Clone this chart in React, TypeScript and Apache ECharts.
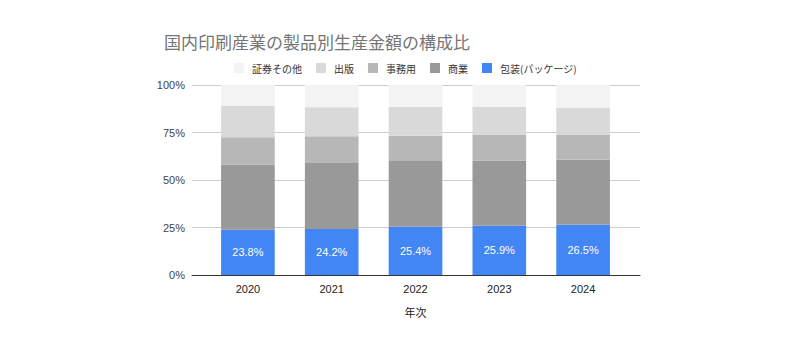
import React, { useEffect, useRef } from "react";
import * as echarts from "echarts";

const years = ["2020", "2021", "2022", "2023", "2024"];
const packaging = [23.8, 24.2, 25.4, 25.9, 26.5];
const commercial = [34.3, 34.7, 34.6, 34.3, 34.2];
const office = [14.4, 14.1, 13.3, 13.5, 13.0];
const publishing = [16.4, 15.3, 15.3, 14.9, 14.4];
const securities = [11.1, 11.7, 11.4, 11.4, 11.9];
const yTicks = [0, 25, 50, 75, 100];

const FONT = "'Liberation Sans', 'Noto Sans CJK JP', sans-serif";

export default function App() {
  const ref = useRef<HTMLDivElement>(null);
  useEffect(() => {
    const chart = echarts.init(ref.current!, undefined, { renderer: "svg" });
    const mk = (name: string, data: number[], color: string, label = false) => ({
      name,
      type: "bar",
      stack: "total",
      xAxisIndex: 0,
      yAxisIndex: 0,
      barWidth: "64%",
      data,
      itemStyle: { color },
      label: label
        ? {
            show: true,
            position: "inside",
            color: "#ffffff",
            fontSize: 11,
            fontFamily: FONT,
            formatter: (p: any) => p.value.toFixed(1) + "%",
          }
        : { show: false },
    });
    chart.setOption({
      animation: false,
      textStyle: { fontFamily: FONT },
      title: {
        text: "国内印刷産業の製品別生産金額の構成比",
        left: 151,
        top: 20,
        textStyle: {
          fontFamily: "'Noto Sans CJK JP', sans-serif",
          fontSize: 17,
          fontWeight: "normal",
          color: "#757575",
        },
      },
      legend: {
        data: ["証券その他", "出版", "事務用", "商業", "包装(パッケージ)"],
        top: 50,
        left: 221,
        itemWidth: 10,
        itemHeight: 10,
        itemGap: 14,
        icon: "rect",
        textStyle: {
          fontFamily: "'Noto Sans CJK JP', sans-serif",
          fontSize: 10,
          color: "#333333",
          padding: [0, 0, 0, 3],
        },
      },
      grid: [
        { left: 198, right: 183, top: 77, bottom: 83 },
        { left: 184, right: 168, top: 77, bottom: 83 },
      ],
      xAxis: [
        {
          type: "category",
          gridIndex: 0,
          data: years,
          axisLine: { show: false },
          axisTick: { show: false },
          axisLabel: { color: "#222222", fontSize: 11, margin: 8, fontFamily: FONT },
          name: "年次",
          nameLocation: "middle",
          nameGap: 31,
          nameTextStyle: {
            color: "#222222",
            fontSize: 11,
            fontFamily: "'Noto Sans CJK JP', sans-serif",
          },
        },
        {
          type: "value",
          gridIndex: 1,
          min: 0,
          max: 1,
          axisLine: { show: true, lineStyle: { color: "#333333", width: 1 } },
          axisTick: { show: false },
          axisLabel: { show: false },
          splitLine: { show: false },
        },
      ],
      yAxis: [
        {
          type: "value",
          gridIndex: 0,
          min: 0,
          max: 100,
          interval: 25,
          show: false,
          splitLine: { show: false },
        },
        {
          type: "value",
          gridIndex: 1,
          min: yTicks[0],
          max: yTicks[yTicks.length - 1],
          interval: 25,
          axisLine: { show: false },
          axisTick: { show: false },
          axisLabel: {
            color: "#444444",
            fontSize: 11,
            margin: 7,
            fontFamily: FONT,
            formatter: "{value}%",
          },
          splitLine: { show: true, lineStyle: { color: "#cccccc", width: 1 } },
        },
      ],
      series: [
        mk("包装(パッケージ)", packaging, "#4285f4", true),
        mk("商業", commercial, "#999999"),
        mk("事務用", office, "#b7b7b7"),
        mk("出版", publishing, "#d9d9d9"),
        mk("証券その他", securities, "#f3f3f3"),
      ],
    });
    return () => chart.dispose();
  }, []);
  return <div ref={ref} style={{ width: 800, height: 350 }} />;
}
